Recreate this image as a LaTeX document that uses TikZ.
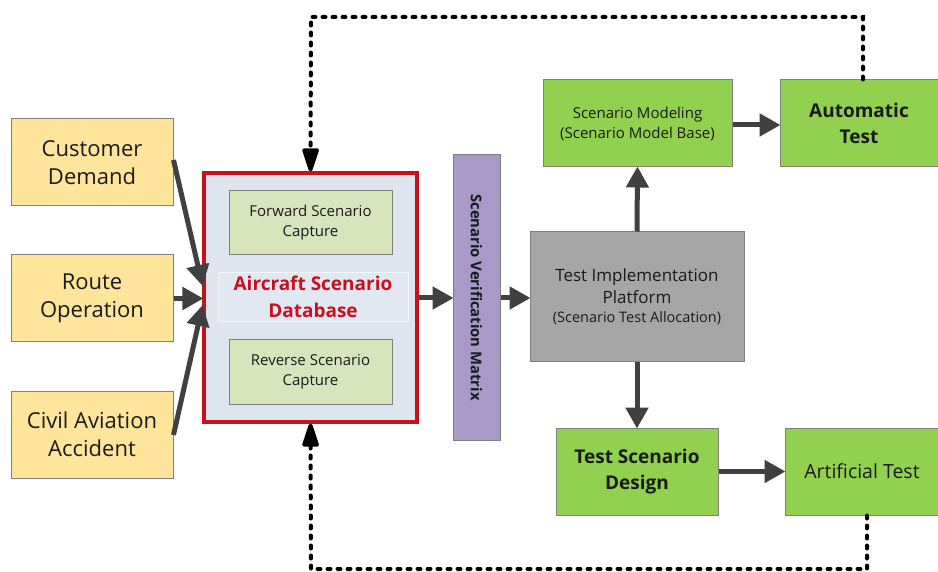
\documentclass[tikz,border=0pt]{standalone}
\usepackage{fontspec}
\setmainfont{Open Sans}
\usetikzlibrary{arrows.meta}
\definecolor{boxyellow}{HTML}{FFE59C}
\definecolor{boxgreen}{HTML}{92D050}
\definecolor{palegreen}{HTML}{D8E4BC}
\definecolor{dbfill}{HTML}{DEE5EF}
\definecolor{barpurple}{HTML}{A899C7}
\definecolor{platgray}{HTML}{A6A6A6}
\definecolor{dbred}{HTML}{C8101E}
\definecolor{edgegray}{HTML}{7F7F7F}
\definecolor{arrowgray}{HTML}{404040}
\definecolor{txt}{HTML}{1A1A1A}
\tikzset{
  box/.style={draw=edgegray, line width=1pt, align=center, inner sep=2pt, text=txt},
  srcbox/.style={box, fill=boxyellow, minimum width=162pt, minimum height=87pt, font=\fontsize{22}{28}\selectfont},
  grnbox/.style={box, fill=boxgreen, minimum height=87pt},
  capbox/.style={box, fill=palegreen, minimum width=163pt, minimum height=64pt, font=\fontsize{15}{20}\selectfont},
  flow/.style={draw=arrowgray, line width=5pt, -{Triangle[length=21pt,width=22pt]}, shorten >=-1pt},
  loop/.style={draw=black, line width=4pt, dash pattern=on 3pt off 7pt, line cap=round,
               -{Triangle[length=28pt,width=17pt,round=false]}}
}
\begin{document}
\begin{tikzpicture}[x=1pt,y=-1pt]
\useasboundingbox[fill=white] (0,0) rectangle (938,572);

% information sources
\node[srcbox] (cust) at (92,162.5) {Customer\\Demand};
\node[srcbox] (route) at (92,298.5) {Route\\Operation};
\node[srcbox] (civil) at (92,434.5) {Civil Aviation\\Accident};

% scenario database with its two capture blocks
\node[draw=dbred, line width=3.2pt, fill=dbfill, minimum width=213pt, minimum height=249pt] (db) at (310.5,297.5) {};
\node[capbox] (fwd) at (310.5,223) {Forward Scenario\\Capture};
\node[draw=white!60!dbfill, line width=0.6pt, fill=white!12!dbfill, minimum width=190pt, minimum height=49pt,
      align=center, text=dbred, font=\bfseries\fontsize{19}{27}\selectfont] (dbname) at (313,297) {Aircraft Scenario\\Database};
\node[capbox] (rev) at (310.5,372) {Reverse Scenario\\Capture};

% verification matrix
\node[box, fill=barpurple, minimum width=47pt, minimum height=285pt] (mat) at (476.5,297.5) {};
\node[rotate=-90, font=\bfseries\fontsize{14.8}{16}\selectfont, text=txt] (matlabel) at (mat.center) {Scenario Verification Matrix};

% test side
\node[box, fill=platgray, minimum width=214pt, minimum height=130pt, font=\fontsize{17}{22}\selectfont] (plat) at (637,297)
  {Test Implementation\\Platform\\[-3pt]{\fontsize{14.5}{18}\selectfont (Scenario Test Allocation)}};
\node[grnbox, minimum width=189pt, font=\fontsize{15}{20}\selectfont] (model) at (637.5,123.5) {Scenario Modeling\\(Scenario Model Base)};
\node[grnbox, minimum width=166pt, font=\bfseries\fontsize{19}{26}\selectfont] (auto) at (863,123.5) {\hspace*{-8pt}Automatic\\\hspace*{-8pt}Test};
\node[grnbox, minimum width=162pt, font=\bfseries\fontsize{19}{26}\selectfont] (design) at (637,471.5) {Test Scenario\\Design};
\node[grnbox, minimum width=164pt, font=\fontsize{19.5}{26}\selectfont] (manual) at (867,471.5) {\hspace*{-10pt}Artificial Test};

% main flow
\draw[flow] (cust.east |- 0,160) -- (db.west |- 0,285);
\draw[flow] (route.east) -- (db.west |- route.east);
\draw[flow] (civil.east |- 0,435) -- (db.west |- 0,306);
\draw[flow] (db.east |- 0,298) -- (mat.west |- 0,298);
\draw[flow] (mat.east |- 0,298) -- (plat.west |- 0,298);
\draw[flow] (plat.north) -- (model.south);
\draw[flow] (plat.south) -- (design.north);
\draw[flow] (model.east |- 0,125) -- (auto.west |- 0,125);
\draw[flow] (design.east) -- (manual.west);

% feedback loops
\coordinate (tr) at (863,17);
\coordinate (tl) at (311,17);
\coordinate (br) at (867,569);
\coordinate (bl) at (311,569);
\draw[loop] (auto.north) -- (tr) -- (tl) -- (db.north);
\draw[loop] (manual.south) -- (br) -- (bl) -- (db.south);
\end{tikzpicture}
\end{document}
